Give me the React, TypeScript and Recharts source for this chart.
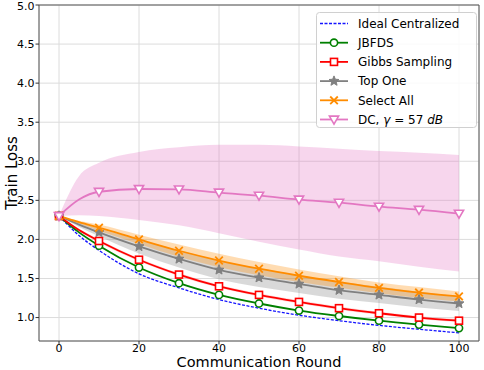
import React from "react";
import {
  ComposedChart,
  Line,
  Area,
  XAxis,
  YAxis,
  CartesianGrid,
  ReferenceLine,
} from "recharts";

const rounds = [0, 5, 10, 20, 30, 40, 50, 60, 70, 80, 90, 100];
const ideal = [2.3, 2.05, 1.86, 1.56, 1.38, 1.23, 1.12, 1.03, 0.96, 0.9, 0.85, 0.805];
const jbfds = [2.3, 2.09, 1.92, 1.64, 1.44, 1.29, 1.18, 1.09, 1.02, 0.96, 0.91, 0.865];
const gibbs = [2.3, 2.12, 1.98, 1.74, 1.55, 1.4, 1.29, 1.2, 1.12, 1.055, 1.0, 0.96];
const topOne = [2.3, 2.19, 2.09, 1.91, 1.75, 1.61, 1.51, 1.43, 1.35, 1.29, 1.23, 1.18];
const selectAll = [2.3, 2.22, 2.15, 2.0, 1.855, 1.73, 1.625, 1.535, 1.455, 1.38, 1.32, 1.27];
const dc = [2.3, 2.51, 2.61, 2.645, 2.64, 2.6, 2.56, 2.51, 2.47, 2.42, 2.38, 2.33];

const dcHigh = [2.3, 2.81, 2.98, 3.12, 3.18, 3.21, 3.21, 3.19, 3.16, 3.13, 3.11, 3.08];
const dcLow = [2.3, 2.31, 2.3, 2.25, 2.18, 2.08, 1.97, 1.87, 1.78, 1.72, 1.65, 1.59];
const selectAllHigh = [2.3, 2.24, 2.19, 2.06, 1.935, 1.815, 1.71, 1.615, 1.53, 1.45, 1.39, 1.335];
const selectAllLow = [2.3, 2.2, 2.11, 1.94, 1.775, 1.645, 1.54, 1.455, 1.38, 1.31, 1.25, 1.205];
const topOneHigh = [2.3, 2.22, 2.14, 2.0, 1.86, 1.73, 1.63, 1.545, 1.46, 1.395, 1.33, 1.275];
const topOneLow = [2.3, 2.16, 2.04, 1.82, 1.64, 1.49, 1.39, 1.315, 1.24, 1.185, 1.13, 1.085];
const gibbsHigh = [2.3, 2.135, 2.0, 1.76, 1.57, 1.42, 1.31, 1.22, 1.14, 1.075, 1.02, 0.98];
const gibbsLow = [2.3, 2.105, 1.96, 1.72, 1.53, 1.38, 1.27, 1.18, 1.1, 1.035, 0.98, 0.94];

const xTicks = [0, 20, 40, 60, 80, 100];
const yTicks = [1.0, 1.5, 2.0, 2.5, 3.0, 3.5, 4.0, 4.5, 5.0];

const legendNames = [
  "Ideal Centralized",
  "JBFDS",
  "Gibbs Sampling",
  "Top One",
  "Select All",
  "DC",
];

const C = {
  ideal: "#1515ff",
  jbfds: "#008000",
  gibbs: "#ff0000",
  top: "#808080",
  sel: "#ff8c00",
  dc: "#e377c2",
};

const data = rounds.map((r, i) => ({
  round: r,
  ideal: ideal[i],
  jbfds: jbfds[i],
  gibbs: gibbs[i],
  topOne: topOne[i],
  selectAll: selectAll[i],
  dc: dc[i],
  dcBand: [dcLow[i], dcHigh[i]],
  selBand: [selectAllLow[i], selectAllHigh[i]],
  topBand: [topOneLow[i], topOneHigh[i]],
  gibbsBand: [gibbsLow[i], gibbsHigh[i]],
}));

const FONT = "DejaVu Sans, sans-serif";

function starPath(cx: number, cy: number, R: number, r: number) {
  let d = "";
  for (let k = 0; k < 10; k++) {
    const ang = -Math.PI / 2 + (k * Math.PI) / 5;
    const rad = k % 2 === 0 ? R : r;
    const x = cx + rad * Math.cos(ang);
    const y = cy + rad * Math.sin(ang);
    d += (k === 0 ? "M" : "L") + x.toFixed(2) + "," + y.toFixed(2);
  }
  return d + "Z";
}

function Marker({ kind, cx, cy }: { kind: string; cx: number; cy: number }) {
  switch (kind) {
    case "circle":
      return <circle cx={cx} cy={cy} r={3.6} fill="#fff" stroke={C.jbfds} strokeWidth={1.6} />;
    case "square":
      return (
        <rect x={cx - 3.5} y={cy - 3.5} width={7} height={7} fill="#fff" stroke={C.gibbs} strokeWidth={1.6} />
      );
    case "star":
      return <path d={starPath(cx, cy, 5.2, 2.3)} fill={C.top} stroke={C.top} strokeWidth={1} />;
    case "x":
      return (
        <g stroke={C.sel} strokeWidth={1.8}>
          <line x1={cx - 3.8} y1={cy - 3.8} x2={cx + 3.8} y2={cy + 3.8} />
          <line x1={cx - 3.8} y1={cy + 3.8} x2={cx + 3.8} y2={cy - 3.8} />
        </g>
      );
    case "tri":
      return (
        <polygon
          points={`${cx - 4.6},${cy - 3.4} ${cx + 4.6},${cy - 3.4} ${cx},${cy + 4.6}`}
          fill="#fff"
          stroke={C.dc}
          strokeWidth={1.6}
        />
      );
    default:
      return null;
  }
}

const dotFor = (kind: string) => (props: any) => {
  const { cx, cy, payload, index } = props;
  if (payload.round % 10 !== 0 || cx == null || cy == null) return <g key={`d${kind}${index}`} />;
  return (
    <g key={`d${kind}${index}`}>
      <Marker kind={kind} cx={cx} cy={cy} />
    </g>
  );
};

function Legend() {
  const rows = [
    { color: C.ideal, kind: "", dash: "3 1.5", w: 1.3 },
    { color: C.jbfds, kind: "circle", dash: undefined, w: 1.8 },
    { color: C.gibbs, kind: "square", dash: undefined, w: 1.8 },
    { color: C.top, kind: "star", dash: undefined, w: 1.8 },
    { color: C.sel, kind: "x", dash: undefined, w: 1.8 },
    { color: C.dc, kind: "tri", dash: undefined, w: 1.8 },
  ];
  return (
    <g>
      <rect x={316.5} y={12.5} width={160} height={115} rx={3} fill="#fff" fillOpacity={0.85} stroke="#d0d0d0" />
      {rows.map((r, i) => {
        const y = 23.5 + i * 19.2;
        return (
          <g key={i}>
            <line x1={320} y1={y} x2={348} y2={y} stroke={r.color} strokeWidth={r.w} strokeDasharray={r.dash} />
            {r.kind ? <Marker kind={r.kind} cx={334} cy={y} /> : null}
            <text x={358} y={y + 4.3} fontSize={12} fontFamily={FONT} fill="#000">
              {i < 5 ? (
                legendNames[i]
              ) : (
                <>
                  {legendNames[i] + ", "}
                  <tspan fontStyle="italic">γ</tspan>
                  {" = 57 "}
                  <tspan fontStyle="italic">dB</tspan>
                </>
              )}
            </text>
          </g>
        );
      })}
    </g>
  );
}

export default function App() {
  const tickStyle = { fontSize: 11, fontFamily: FONT, fill: "#000" };
  return (
    <div style={{ position: "absolute", left: 0, top: 0, width: 484, height: 370, background: "#fff" }}>
      <ComposedChart
        width={484}
        height={370}
        data={data}
        margin={{ top: 5, right: 5, bottom: 0, left: 0 }}
      >
        <CartesianGrid stroke="#dcdcdc" strokeWidth={1} />
        <XAxis
          dataKey="round"
          type="number"
          domain={[-5, 105]}
          ticks={xTicks}
          allowDataOverflow
          height={29}
          tick={tickStyle}
          tickSize={3.5}
          tickMargin={0}
          stroke="#555"
          tickLine={{ stroke: "#333" }}
        />
        <YAxis
          type="number"
          domain={[0.7, 5.0]}
          ticks={yTicks}
          allowDataOverflow
          width={39}
          tick={tickStyle}
          tickSize={3.5}
          tickMargin={1}
          tickFormatter={(v: number) => v.toFixed(1)}
          stroke="#555"
          tickLine={{ stroke: "#333" }}
        />
        <ReferenceLine y={5.0} stroke="#555" ifOverflow="visible" />
        <ReferenceLine x={105} stroke="#555" ifOverflow="visible" />
        <Area type="monotone" dataKey="gibbsBand" stroke="none" fill={C.gibbs} fillOpacity={0.15} isAnimationActive={false} />
        <Area type="monotone" dataKey="topBand" stroke="none" fill={C.top} fillOpacity={0.3} isAnimationActive={false} />
        <Area type="monotone" dataKey="selBand" stroke="none" fill={C.sel} fillOpacity={0.3} isAnimationActive={false} />
        <Area type="monotone" dataKey="dcBand" stroke="none" fill={C.dc} fillOpacity={0.3} isAnimationActive={false} />
        <Line type="monotone" dataKey="ideal" stroke={C.ideal} strokeWidth={1.3} strokeDasharray="3 1.5" dot={false} isAnimationActive={false} />
        <Line type="monotone" dataKey="jbfds" stroke={C.jbfds} strokeWidth={1.8} dot={dotFor("circle")} isAnimationActive={false} />
        <Line type="monotone" dataKey="gibbs" stroke={C.gibbs} strokeWidth={1.8} dot={dotFor("square")} isAnimationActive={false} />
        <Line type="monotone" dataKey="topOne" stroke={C.top} strokeWidth={1.8} dot={dotFor("star")} isAnimationActive={false} />
        <Line type="monotone" dataKey="selectAll" stroke={C.sel} strokeWidth={1.8} dot={dotFor("x")} isAnimationActive={false} />
        <Line type="monotone" dataKey="dc" stroke={C.dc} strokeWidth={1.8} dot={dotFor("tri")} isAnimationActive={false} />
      </ComposedChart>
      <svg width={484} height={370} style={{ position: "absolute", left: 0, top: 0, pointerEvents: "none" }}>
        <Legend />
        <text x={259} y={366.8} textAnchor="middle" fontSize={14.5} fontFamily={FONT} fill="#000">
          Communication Round
        </text>
        <text
          x={17}
          y={173}
          textAnchor="middle"
          fontSize={15}
          fontFamily={FONT}
          fill="#000"
          transform="rotate(-90 17 173)"
        >
          Train Loss
        </text>
      </svg>
    </div>
  );
}
